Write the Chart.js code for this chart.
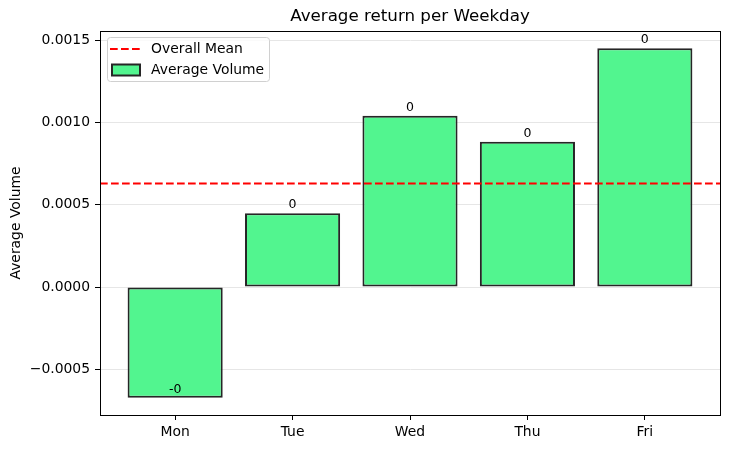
<!DOCTYPE html>
<html><head><meta charset="utf-8">
<script src="https://cdn.jsdelivr.net/npm/chart.js@4/dist/chart.umd.min.js"></script>
<style>html,body{margin:0;padding:0;background:#fff;}canvas{display:block;}</style>
</head><body>
<canvas id="c" width="729" height="449"></canvas>
<script>
const days = ['Mon','Tue','Wed','Thu','Fri'];
const avgReturn = [-0.000672, 0.000448, 0.001040, 0.000882, 0.001450];
const barLabels = ['-0','0','0','0','0'];
const yTicks = [-0.0005, 0, 0.0005, 0.0010, 0.0015];
const xRange = [-0.64, 4.64];
const yRange = [-0.000777, 0.001555];
const titleText = 'Average return per Weekday';
const yLabel = 'Average Volume';
const legendLabels = ['Overall Mean', 'Average Volume'];

const mean = avgReturn.reduce((a,b)=>a+b,0)/avgReturn.length;
const FONT = '"DejaVu Sans", sans-serif';
const BAR_FILL = '#52f58f';
const BAR_EDGE = '#262626';
const DASH = [7.7, 3.3];

const overlay = {
  id: 'overlay',
  afterDatasetsDraw(chart) {
    const ctx = chart.ctx, xs = chart.scales.x, ys = chart.scales.y, a = chart.chartArea;
    ctx.save();
    // bar labels
    ctx.fillStyle = '#000';
    ctx.font = '12.5px ' + FONT;
    ctx.textAlign = 'center';
    ctx.textBaseline = 'bottom';
    avgReturn.forEach((v,i)=>{
      ctx.fillText(barLabels[i], xs.getPixelForValue(i), ys.getPixelForValue(v) - 2);
    });
    // spines
    ctx.strokeStyle = '#000';
    ctx.lineWidth = 1;
    ctx.strokeRect(Math.round(a.left)+0.5, Math.round(a.top)+0.5, Math.round(a.right-a.left), Math.round(a.bottom-a.top));
    // title
    ctx.font = '16.7px ' + FONT;
    ctx.textBaseline = 'middle';
    ctx.fillText(titleText, (a.left+a.right)/2, 17);
    // y label
    ctx.save();
    ctx.translate(16, (a.top+a.bottom)/2);
    ctx.rotate(-Math.PI/2);
    ctx.font = '13.9px ' + FONT;
    ctx.fillText(yLabel, 0, 0);
    ctx.restore();
    // legend
    const lx = 107.5, ly = 37.5, lw = 162, lh = 44, r = 3;
    ctx.beginPath();
    ctx.moveTo(lx+r, ly); ctx.lineTo(lx+lw-r, ly); ctx.arcTo(lx+lw, ly, lx+lw, ly+r, r);
    ctx.lineTo(lx+lw, ly+lh-r); ctx.arcTo(lx+lw, ly+lh, lx+lw-r, ly+lh, r);
    ctx.lineTo(lx+r, ly+lh); ctx.arcTo(lx, ly+lh, lx, ly+lh-r, r);
    ctx.lineTo(lx, ly+r); ctx.arcTo(lx, ly, lx+r, ly, r); ctx.closePath();
    ctx.fillStyle = 'rgba(255,255,255,0.8)';
    ctx.fill();
    ctx.strokeStyle = '#d0d0d0';
    ctx.lineWidth = 1;
    ctx.stroke();
    // line sample
    ctx.strokeStyle = '#ff0000';
    ctx.lineWidth = 2;
    ctx.setLineDash(DASH);
    ctx.beginPath(); ctx.moveTo(110, 49); ctx.lineTo(140, 49); ctx.stroke();
    ctx.setLineDash([]);
    // rect sample
    ctx.fillStyle = BAR_FILL;
    ctx.fillRect(112, 64.5, 28, 11);
    ctx.strokeStyle = BAR_EDGE;
    ctx.lineWidth = 2;
    ctx.strokeRect(112, 64.5, 28, 11);
    ctx.fillStyle = '#000';
    ctx.font = '13.9px ' + FONT;
    ctx.textAlign = 'left';
    ctx.textBaseline = 'middle';
    ctx.fillText(legendLabels[0], 151, 49);
    ctx.fillText(legendLabels[1], 151, 70);
    ctx.restore();
  }
};

new Chart(document.getElementById('c'), {
  data: {
    datasets: [
      {
        type: 'bar',
        label: legendLabels[1],
        data: avgReturn.map((v,i)=>({x:i, y:v})),
        backgroundColor: BAR_FILL,
        borderColor: BAR_EDGE,
        borderWidth: 2,
        borderSkipped: false,
        categoryPercentage: 1,
        barPercentage: 0.81,
        order: 2
      },
      {
        type: 'line',
        label: legendLabels[0],
        data: [{x:xRange[0], y:mean}, {x:xRange[1], y:mean}],
        borderColor: '#ff0000',
        borderWidth: 2,
        borderDash: DASH,
        pointRadius: 0,
        fill: false,
        order: 1
      }
    ]
  },
  options: {
    responsive: false,
    animation: false,
    devicePixelRatio: 1,
    layout: { padding: { left: 0, right: 9, top: 31, bottom: 0 } },
    plugins: { legend: { display: false }, title: { display: false }, tooltip: { enabled: false } },
    scales: {
      x: {
        type: 'linear',
        offset: false,
        min: xRange[0], max: xRange[1],
        afterBuildTicks(s) { s.ticks = days.map((d,i)=>({value:i})); },
        afterFit(s) { s.height = 34; },
        ticks: {
          callback: (v) => days[v],
          color: '#000',
          font: { family: FONT, size: 13.9 },
          padding: 4,
          maxRotation: 0,
          autoSkip: false
        },
        grid: { offset: false, drawOnChartArea: false, tickColor: '#000', tickLength: 5, tickWidth: 1 },
        border: { display: true, color: '#000', width: 1 }
      },
      y: {
        type: 'linear',
        min: yRange[0], max: yRange[1],
        afterBuildTicks(s) { s.ticks = yTicks.map(v=>({value:v})); },
        afterFit(s) { s.width = 100; },
        ticks: {
          callback: (v) => v.toFixed(4).replace('-', '\u2212'),
          color: '#000',
          font: { family: FONT, size: 13.9 },
          padding: 5,
          autoSkip: false
        },
        grid: { color: '#e6e6e6', lineWidth: 1, tickColor: '#000', tickLength: 5, tickWidth: 1 },
        border: { display: true, color: '#000', width: 1 }
      }
    }
  },
  plugins: [overlay]
});
</script>
</body></html>
